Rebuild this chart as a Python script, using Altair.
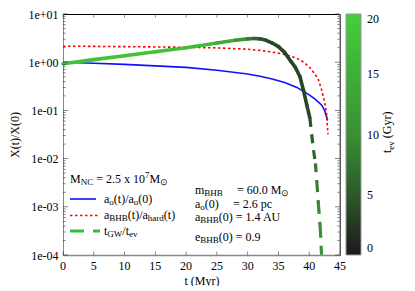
import altair as alt
import pandas as pd

FONT = "Liberation Serif"

# ---------------- data ----------------
blue_t = [0, 5, 10, 15, 20, 25, 28, 30, 32, 34, 36, 38, 40, 41, 42, 42.5, 43]
blue_v = [1.0, 0.95, 0.9, 0.84, 0.78, 0.68, 0.61, 0.57, 0.51, 0.45, 0.38, 0.30, 0.21, 0.17, 0.13, 0.1, 0.062]

red_t = [0, 5, 10, 15, 20, 25, 30, 32, 34, 36, 37, 38, 39, 40, 41, 41.5, 42, 42.5, 42.8, 43.05]
red_v = [2.15, 2.13, 2.1, 2.07, 2.04, 1.98, 1.86, 1.76, 1.62, 1.45, 1.33, 1.2, 1.02, 0.8, 0.55, 0.43, 0.27, 0.15, 0.09, 0.032]

green_t = [0, 5, 10, 15, 20, 25, 28, 30, 31, 32, 33, 34, 35, 36, 37, 37.7, 38.5, 39.1, 39.6, 40.1]
green_v = [0.93, 1.13, 1.36, 1.65, 2.0, 2.5, 2.85, 3.05, 3.1, 3.05, 2.85, 2.5, 2.1, 1.6, 1.05, 0.8, 0.5, 0.25, 0.13, 0.07]
green_tev = [18, 18, 18, 18, 17.5, 16, 13, 9, 7, 5, 4, 3.5, 3.5, 3.5, 3.5, 3.5, 3.5, 3.5, 3.5, 4]

dash_t = [40.1, 40.4, 40.7, 41.0, 41.25, 41.5, 41.8, 42.0]
dash_v = [0.07, 0.032, 0.015, 0.008, 0.0031, 0.0011, 0.00035, 0.0001]
dash_tev = [4, 5, 6, 7, 8, 9, 10, 11]

x_ticks = [0, 5, 10, 15, 20, 25, 30, 35, 40, 45]
y_major = [1e-4, 1e-3, 1e-2, 1e-1, 1e0, 1e1]
y_minor = [k * 10.0 ** e for e in range(-4, 1) for k in range(2, 10)]
cb_ticks = [0, 5, 10, 15, 20]

# layout (page pixels): plot area from x=63..340, y=14..255
OX, OY = 63, 14
W_PLOT, H_PLOT = 277, 241

xs = alt.Scale(domain=[0, 45], nice=False, zero=False)
ys = alt.Scale(type="log", domain=[1e-4, 10], nice=False)

blue_df = pd.DataFrame({"t": blue_t, "v": blue_v})
red_df = pd.DataFrame({"t": red_t, "v": red_v})


def segments(t, v, tev):
    rows = []
    for i in range(len(t) - 1):
        rows.append({"t0": t[i], "t1": t[i + 1], "v0": v[i], "v1": v[i + 1],
                     "tev": (tev[i] + tev[i + 1]) / 2})
    return pd.DataFrame(rows)


seg_solid = segments(green_t, green_v, green_tev)
seg_dash = segments(dash_t, dash_v, dash_tev)

cscale = alt.Scale(domain=[0, 5, 10, 20], range=["#1a1a1a", "#2b5a2a", "#3a8f34", "#42d03a"])

ylabel = ("'1e' + (datum.value >= 1 ? '+' : '-') + '0' + "
          "format(abs(round(log(datum.value) / LN10)), 'd')")

xaxis = alt.Axis(values=x_ticks, title="t (Myr)", ticks=False, grid=False,
                 labels=False, titleY=25, titleBaseline="middle",
                 domainColor="#888888", domainWidth=1.5)
yaxis = alt.Axis(values=y_major, labelExpr=ylabel, ticks=False, grid=False,
                 labelPadding=5, labelOverlap=False, title="X(t)/X(0)",
                 titleX=-49, titleY=H_PLOT / 2, titleBaseline="middle")

blue = alt.Chart(blue_df).mark_line(color="#1010ff", strokeWidth=1.6).encode(
    x=alt.X("t:Q", scale=xs, axis=xaxis),
    y=alt.Y("v:Q", scale=ys, axis=yaxis),
)

red = alt.Chart(red_df).mark_line(color="#ff0000", strokeWidth=1.6, strokeDash=[2.5, 2.5]).encode(
    x=alt.X("t:Q", scale=xs),
    y=alt.Y("v:Q", scale=ys),
)

green_solid = alt.Chart(seg_solid).mark_rule(strokeWidth=3.6, strokeCap="round").encode(
    x=alt.X("t0:Q", scale=xs), x2="t1:Q",
    y=alt.Y("v0:Q", scale=ys), y2="v1:Q",
    color=alt.Color("tev:Q", scale=cscale, legend=alt.Legend(
        title=None, orient="right", offset=6, padding=0, gradientLength=H_PLOT,
        gradientThickness=15, values=cb_ticks, labelOffset=6, labelFontSize=12,
        labelFont=FONT, labelColor="black", gradientStrokeColor="#999999",
        gradientStrokeWidth=1)),
)

green_dash = alt.Chart(seg_dash).mark_rule(strokeWidth=3.2, strokeDash=[9, 8]).encode(
    x=alt.X("t0:Q", scale=xs), x2="t1:Q",
    y=alt.Y("v0:Q", scale=ys), y2="v1:Q",
    color=alt.Color("tev:Q", scale=cscale),
)

# inward tick marks on all four sides (placed by the scales)
ymaj_df = pd.DataFrame({"v": y_major})
ymin_df = pd.DataFrame({"v": y_minor})
xt_df = pd.DataFrame({"t": x_ticks})
tick_layers = []
for df, ln in [(ymaj_df, 5), (ymin_df, 2.6)]:
    for xpos, off in [(0, ln / 2), (W_PLOT, -ln / 2)]:
        tick_layers.append(alt.Chart(df).mark_tick(
            color="#222222", thickness=0.8, size=ln, orient="horizontal", xOffset=off
        ).encode(y=alt.Y("v:Q", scale=ys), x=alt.value(xpos)))
for ypos, off in [(0, 1.75), (H_PLOT, -1.75)]:
    tick_layers.append(alt.Chart(xt_df).mark_tick(
        color="#333333", thickness=0.8, size=3.5, orient="vertical", yOffset=off
    ).encode(x=alt.X("t:Q", scale=xs), y=alt.value(ypos)))

# x tick labels, positioned by the x scale
x_labels = alt.Chart(xt_df).mark_text(
    font=FONT, fontSize=12, baseline="middle", align="center", color="black"
).encode(x=alt.X("t:Q", scale=xs), y=alt.value(H_PLOT + 11), text="t:Q")

one = alt.Data(values=[{}])
right_border = alt.Chart(one).mark_rule(color="#888888", strokeWidth=1.3).encode(
    x=alt.value(W_PLOT), y=alt.value(0), y2=alt.value(H_PLOT))

# key samples (page coordinates converted to plot-relative)
key_blue = alt.Chart(one).mark_rule(color="#1010ff", strokeWidth=1.6).encode(
    x=alt.value(70 - OX), x2=alt.value(96 - OX), y=alt.value(199 - OY))
key_red = alt.Chart(one).mark_rule(color="#ff0000", strokeWidth=1.6, strokeDash=[2.5, 2.5]).encode(
    x=alt.value(70 - OX), x2=alt.value(99 - OX), y=alt.value(215.5 - OY))
key_green = alt.Chart(one).mark_rule(color="#33c033", strokeWidth=3.2, strokeDash=[14, 9]).encode(
    x=alt.value(70 - OX), x2=alt.value(100 - OX), y=alt.value(231 - OY))

# ---------------- text annotations with sub/superscripts ----------------
WID = {' ': 250, '(': 333, ')': 333, '+': 564, '.': 250, '/': 278, '=': 564,
       'A': 722, 'B': 667, 'C': 667, 'G': 722, 'H': 722, 'M': 889, 'N': 722,
       'U': 722, 'W': 944, 'X': 722, 'a': 444, 'c': 444, 'd': 500, 'e': 444,
       'h': 500, 'm': 778, 'o': 500, 'p': 500, 'r': 333, 't': 278, 'v': 500,
       'x': 500, 'y': 500, '\u2299': 838}
for d in "0123456789":
    WID[d] = 500


def tw(s, fs):
    return sum(WID.get(c, 600) for c in s) * fs / 1000.0


def build(x, y, parts):
    x -= OX
    y -= OY
    out = []
    for txt, kind in parts:
        fs = 12 if kind == "n" else 9
        dy = 0 if kind == "n" else (2.5 if kind == "sub" else -5)
        lead = len(txt) - len(txt.lstrip(" "))
        x += tw(" " * lead, fs)
        body = txt.strip(" ")
        out.append((x, y + dy, body, fs))
        x += tw(txt[lead:], fs)
    return out


pieces = []
pieces += build(70, 182.5, [("M", "n"), ("NC", "sub"), (" = 2.5 x 10", "n"), ("7", "sup"), ("M", "n"), ("\u2299", "sub")])
pieces += build(104, 202.5, [("a", "n"), ("o", "sub"), ("(t)/a", "n"), ("o", "sub"), ("(0)", "n")])
pieces += build(104, 218.5, [("a", "n"), ("BHB", "sub"), ("(t)/a", "n"), ("hard", "sub"), ("(t)", "n")])
pieces += build(104, 234.5, [("t", "n"), ("GW", "sub"), ("/t", "n"), ("ev", "sub")])
pieces += build(195, 193.5, [("m", "n"), ("BHB", "sub")])
pieces += build(237, 193.5, [("= 60.0 M", "n"), ("\u2299", "sub")])
pieces += build(195, 207.5, [("a", "n"), ("o", "sub"), ("(0)", "n")])
pieces += build(233, 207.5, [("= 2.6 pc", "n")])
pieces += build(195, 220.5, [("a", "n"), ("BHB", "sub"), ("(0) = 1.4 AU", "n")])
pieces += build(195, 240.5, [("e", "n"), ("BHB", "sub"), ("(0) = 0.9", "n")])

text_layers = []
for (px, py, txt, fs) in pieces:
    text_layers.append(alt.Chart(one).mark_text(
        text=txt, fontSize=fs, font=FONT, align="left", baseline="alphabetic", color="black"
    ).encode(x=alt.value(px), y=alt.value(py)))

# rotated colour-bar title: t_ev (Gyr)
cb_parts = [("t", "n"), ("ev", "sub"), (" (Gyr)", "n")]
yy = 153.0 - OY
for txt, kind in cb_parts:
    fs = 12 if kind == "n" else 9
    dx = 0 if kind == "n" else 3
    lead = len(txt) - len(txt.lstrip(" "))
    yy -= tw(" " * lead, fs)
    text_layers.append(alt.Chart(one).mark_text(
        text=txt.strip(" "), fontSize=fs, font=FONT, align="left", baseline="alphabetic",
        angle=270, color="black"
    ).encode(x=alt.value(391 - OX + dx), y=alt.value(yy)))
    yy -= tw(txt[lead:], fs)

chart = alt.layer(
    blue, red, green_solid, green_dash, *tick_layers, x_labels, right_border,
    key_blue, key_red, key_green, *text_layers
).properties(
    width=W_PLOT, height=H_PLOT,
    autosize=alt.AutoSizeParams(type="none"),
    padding={"left": OX - 8, "top": OY - 8, "right": 62, "bottom": 31},
).configure_view(
    stroke="black", strokeWidth=1
).configure_axis(
    labelFont=FONT, titleFont=FONT, labelFontSize=12, titleFontSize=12,
    titleFontWeight="normal", labelColor="black", titleColor="black"
)

chart.save("out.html", embed_options={"renderer": "svg", "actions": False})
